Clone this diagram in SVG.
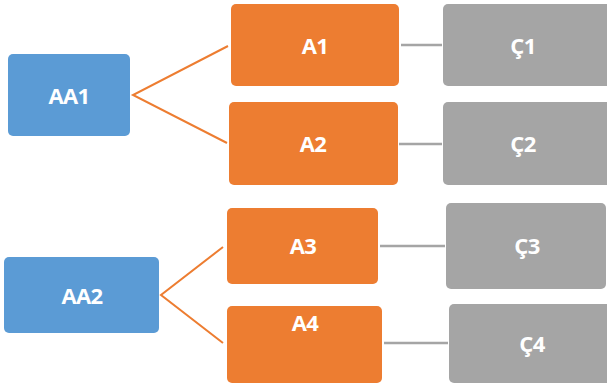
<svg xmlns="http://www.w3.org/2000/svg" width="607" height="385" viewBox="0 0 607 385">
<style>
.b{fill:#5B9BD5}.o{fill:#ED7D31}.g{fill:#A5A5A5}
text{font-family:"Open Sans","Liberation Sans",sans-serif;font-weight:bold;font-size:22px;fill:#fff;text-anchor:middle;dominant-baseline:central;letter-spacing:-0.6px}
.lo{stroke:#ED7D31;stroke-width:2;fill:none}
.lg{stroke:#A5A5A5;stroke-width:2.5;fill:none}
</style>
<rect width="607" height="385" fill="#fff"/>
<g id="connectors">
<polyline class="lo" points="228,46 133,95 227,143"/>
<polyline class="lo" points="223,247 161,295 223,343"/>
<line class="lg" x1="401" y1="45" x2="442" y2="45"/>
<line class="lg" x1="399" y1="144" x2="442" y2="144"/>
<line class="lg" x1="380" y1="246" x2="445" y2="246"/>
<line class="lg" x1="384" y1="343" x2="448" y2="343"/>
</g>
<g id="AA1"><rect class="b" x="8" y="54" width="122" height="82" rx="5"/><text x="69" y="95">AA1</text></g>
<g id="AA2"><rect class="b" x="4" y="257" width="155" height="76" rx="5"/><text x="82" y="295">AA2</text></g>
<g id="A1"><rect class="o" x="231" y="4" width="168" height="82" rx="5"/><text x="315" y="45">A1</text></g>
<g id="A2"><rect class="o" x="229" y="102" width="169" height="83" rx="5"/><text x="313" y="143">A2</text></g>
<g id="A3"><rect class="o" x="227" y="208" width="151" height="76" rx="5"/><text x="303" y="245">A3</text></g>
<g id="A4"><rect class="o" x="227" y="306" width="155" height="77" rx="5"/><text x="305" y="322">A4</text></g>
<g id="C1"><rect class="g" x="443" y="4" width="170" height="82" rx="5"/><text x="523" y="45">Ç1</text></g>
<g id="C2"><rect class="g" x="443" y="102" width="170" height="83" rx="5"/><text x="523" y="143">Ç2</text></g>
<g id="C3"><rect class="g" x="446" y="203" width="160" height="86" rx="5"/><text x="527" y="245">Ç3</text></g>
<g id="C4"><rect class="g" x="449" y="304" width="162" height="79" rx="5"/><text x="532" y="343">Ç4</text></g>
</svg>
